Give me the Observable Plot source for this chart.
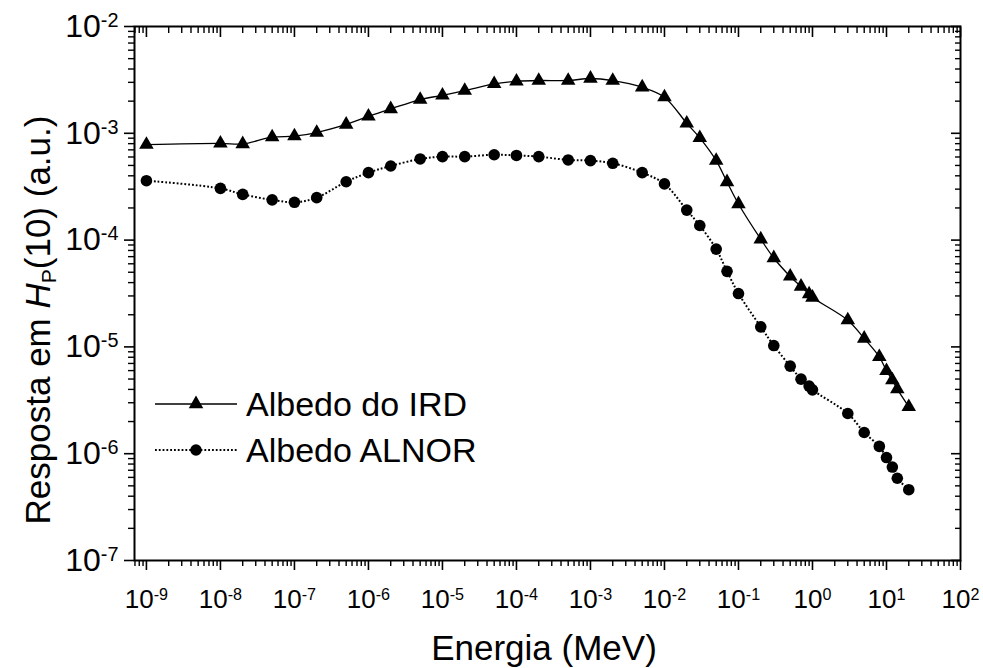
<!DOCTYPE html>
<html><head><meta charset="utf-8">
<script src="https://cdn.jsdelivr.net/npm/d3@7"></script>
<script src="https://cdn.jsdelivr.net/npm/@observablehq/plot@0.6"></script>
<style>
html,body{margin:0;padding:0;background:#fff;}
#chart{position:relative;width:983px;height:668px;}
</style></head><body><div id="chart"></div>
<script>
// Energy (MeV)
const energy = [1e-9,1e-8,2e-8,5e-8,1e-7,2e-7,5e-7,1e-6,2e-6,5e-6,1e-5,2e-5,5e-5,1e-4,2e-4,5e-4,1e-3,2e-3,5e-3,1e-2,2e-2,3e-2,5e-2,7e-2,0.1,0.2,0.3,0.5,0.7,0.9,1,3,5,8,10,12,14,20];
// Albedo do IRD (triangles, solid)
const ird = [7.83e-4,8.05e-4,7.95e-4,9.2e-4,9.4e-4,1.016e-3,1.21e-3,1.44e-3,1.69e-3,2.07e-3,2.27e-3,2.51e-3,2.9e-3,3.06e-3,3.12e-3,3.12e-3,3.26e-3,3.12e-3,2.70e-3,2.18e-3,1.24e-3,9.06e-4,5.55e-4,3.5e-4,2.18e-4,1.02e-4,6.8e-5,4.57e-5,3.68e-5,3.12e-5,2.9e-5,1.78e-5,1.2e-5,8.07e-6,5.97e-6,4.89e-6,4.02e-6,2.75e-6];
// Albedo ALNOR (circles, dotted)
const alnor = [3.6e-4,3.05e-4,2.68e-4,2.38e-4,2.26e-4,2.5e-4,3.52e-4,4.28e-4,4.94e-4,5.75e-4,6.05e-4,6.05e-4,6.3e-4,6.2e-4,6.05e-4,5.63e-4,5.55e-4,5.24e-4,4.28e-4,3.36e-4,1.91e-4,1.37e-4,8.24e-5,5.1e-5,3.16e-5,1.54e-5,1.03e-5,6.6e-6,4.99e-6,4.3e-6,3.96e-6,2.38e-6,1.58e-6,1.17e-6,9.2e-7,7.5e-7,5.89e-7,4.6e-7];
const seriesNames = ["Albedo do IRD", "Albedo ALNOR"];
// tick exponents
const xExponents = [-9,-8,-7,-6,-5,-4,-3,-2,-1,0,1,2];
const yExponents = [-7,-6,-5,-4,-3,-2];
const xTitle = "Energia (MeV)";

const xDomain = [6.9e-10, 100];
const yDomain = [1e-7, 1e-2];
const xMajor = xExponents.map(k => Math.pow(10, k));
const yMajor = yExponents.map(k => Math.pow(10, k));
function minors(dom) {
  const out = [];
  const k0 = Math.floor(Math.log10(dom[0])), k1 = Math.ceil(Math.log10(dom[1]));
  for (let k = k0; k < k1; k++) for (let m = 2; m <= 9; m++) {
    const v = m * Math.pow(10, k);
    if (v >= dom[0] * 0.999 && v <= dom[1] * 1.001) out.push(v);
  }
  return out;
}
const xMinor = minors(xDomain), yMinor = minors(yDomain);
const fmt = d => "10^" + Math.round(Math.log10(d));
const blank = () => "";
const DOTS = "1.8,2";
const TRI_R = 5.4, CIRC_R = 5.8;

const rowsIRD = energy.map((e, i) => ({e, r: ird[i]}));
const rowsAL = energy.map((e, i) => ({e, r: alnor[i]}));
const FONT = "'Liberation Sans', Arial, Helvetica, sans-serif";

const plot = Plot.plot({
  width: 983, height: 668,
  marginLeft: 134, marginRight: 23, marginTop: 26, marginBottom: 108,
  style: {fontFamily: FONT, background: "white", color: "black", overflow: "visible"},
  x: {type: "log", domain: xDomain},
  y: {type: "log", domain: yDomain},
  marks: [
    Plot.axisX(xMajor, {anchor: "bottom", tickSize: 10, strokeWidth: 1.6, tickPadding: 19, fontSize: 26, tickFormat: fmt, label: null}),
    Plot.axisX(xMinor, {anchor: "bottom", tickSize: 6, strokeWidth: 1.4, tickFormat: blank, label: null}),
    Plot.axisX(xMajor, {anchor: "top", tickSize: -10, strokeWidth: 1.6, tickFormat: blank, label: null}),
    Plot.axisX(xMinor, {anchor: "top", tickSize: -6, strokeWidth: 1.4, tickFormat: blank, label: null}),
    Plot.axisY(yMajor, {anchor: "left", tickSize: 10, strokeWidth: 1.6, tickPadding: 6, fontSize: 32, tickFormat: fmt, label: null}),
    Plot.axisY(yMinor, {anchor: "left", tickSize: 6, strokeWidth: 1.4, tickFormat: blank, label: null}),
    Plot.axisY(yMajor, {anchor: "right", tickSize: -10, strokeWidth: 1.6, tickFormat: blank, label: null}),
    Plot.axisY(yMinor, {anchor: "right", tickSize: -6, strokeWidth: 1.4, tickFormat: blank, label: null}),
    Plot.frame({strokeWidth: 2, stroke: "black"}),
    Plot.line(rowsIRD, {x: "e", y: "r", curve: "catmull-rom", stroke: "black", strokeWidth: 1.3}),
    Plot.line(rowsAL, {x: "e", y: "r", curve: "catmull-rom", stroke: "black", strokeWidth: 2, strokeDasharray: DOTS}),
    Plot.dot(rowsIRD, {x: "e", y: "r", symbol: "triangle", r: TRI_R, fill: "black", stroke: "none"}),
    Plot.dot(rowsAL, {x: "e", y: "r", symbol: "circle", r: CIRC_R, fill: "black", stroke: "none"})
  ]
});

// make sure the ALNOR line (second line mark) is dotted
const lineGroups = d3.select(plot).selectAll('g[aria-label="line"]').nodes();
if (lineGroups.length > 1) {
  d3.select(lineGroups[1]).attr("stroke-dasharray", DOTS).attr("stroke-linecap", "butt")
    .selectAll("path").attr("stroke-dasharray", DOTS);
}

// superscripts on tick labels
d3.select(plot).selectAll("text").each(function() {
  const m = /^10\^(-?\d+)$/.exec(this.textContent);
  if (!m) return;
  const sel = d3.select(this);
  sel.text(null);
  sel.append("tspan").text("10");
  sel.append("tspan").attr("dy", "-0.5em").attr("font-size", "0.62em").text(m[1]);
});

const svg = d3.select(plot);
// x title
svg.append("text").attr("x", 544).attr("y", 660).attr("text-anchor", "middle")
  .attr("font-family", FONT).attr("font-size", 35).attr("fill", "black").text(xTitle);
// y title
const yt = svg.append("text").attr("transform", "translate(50,320) rotate(-90)")
  .attr("text-anchor", "middle").attr("font-family", FONT).attr("font-size", 35).attr("fill", "black");
yt.append("tspan").text("Resposta em ");
yt.append("tspan").attr("font-style", "italic").text("H");
yt.append("tspan").attr("font-size", "0.6em").attr("dy", "0.3em").text("P");
yt.append("tspan").attr("dy", "-0.18em").text("(10) (a.u.)");

// legend
const lg = svg.append("g").attr("font-family", FONT).attr("font-size", 34).attr("text-anchor", "start");
const legendRows = [
  {name: seriesNames[0], y: 404, dash: null, sw: 1.3, sym: d3.symbolTriangle, size: Math.PI * TRI_R * TRI_R},
  {name: seriesNames[1], y: 450, dash: DOTS, sw: 2, sym: d3.symbolCircle, size: Math.PI * CIRC_R * CIRC_R}
];
legendRows.forEach(d => {
  lg.append("line").attr("x1", 155).attr("x2", 237).attr("y1", d.y).attr("y2", d.y)
    .attr("stroke", "black").attr("stroke-width", d.sw).attr("stroke-dasharray", d.dash);
  lg.append("path").attr("d", d3.symbol(d.sym, d.size)()).attr("transform", `translate(196,${d.y})`).attr("fill", "black");
  lg.append("text").attr("x", 246).attr("y", d.y + 12).attr("fill", "black").attr("text-anchor", "start").text(d.name);
});

document.getElementById("chart").appendChild(plot);
</script>
</body></html>
